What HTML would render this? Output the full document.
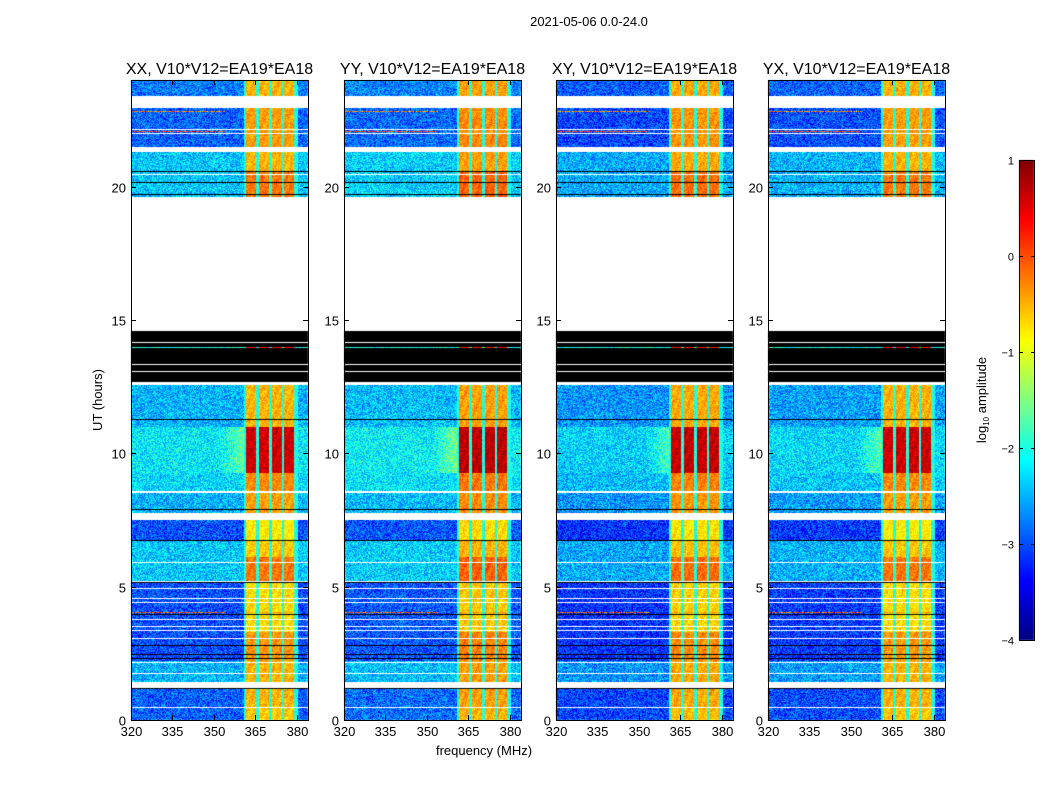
<!DOCTYPE html>
<html><head><meta charset="utf-8"><style>
body{margin:0;background:#fff;width:1050px;height:800px;overflow:hidden;font-family:"Liberation Sans",sans-serif;}
#root{position:relative;width:1050px;height:800px;}
canvas{position:absolute;}
</style></head><body>
<div id="root">
<canvas id="cv" width="1050" height="800" style="left:0;top:0"></canvas>
<svg id="sv" width="1050" height="800" style="position:absolute;left:0;top:0"></svg>
</div>
<script>
// ---- data ----
const panelTitles = ["XX, V10*V12=EA19*EA18","YY, V10*V12=EA19*EA18","XY, V10*V12=EA19*EA18","YX, V10*V12=EA19*EA18"];
const panelBgOffset = [0, 0.05, -0.15, -0.1];
const panelBandOffset = [0, 0.1, 0.05, 0.0];
const segStart = [0.0, 0.5, 1.42, 2.2, 3.3, 5.2, 6.1, 6.75, 7.78, 8.6, 9.25, 11.0, 19.6, 20.6, 21.5, 23.4];
const segEnd   = [0.45,1.2, 2.2, 3.3, 5.17,6.1, 6.72,7.5, 8.5, 9.25,11.0, 12.55,20.6, 21.3, 22.95,24.0];
const segBg    = [-2.9,-2.9,-2.5,-3.0,-3.0,-2.4,-2.4,-3.0,-2.5,-2.3,-2.2,-2.5,-2.4,-2.4,-2.9,-2.8];
const segBand  = [-0.6,-0.5,-0.5,-0.35,-0.7,-0.2,-0.6,-0.8,-0.4,-0.3,0.6,-0.5,-0.2,-0.5,-0.4,-0.5];
const flagStart = [12.67];
const flagEnd = [14.58];
const whiteLines = [1.3,1.35,1.76,2.17,3.07,3.37,3.49,3.75,4.39,4.57,4.95,5.9,7.65,7.7,8.55,12.6,13.05,13.35,14.14,20.45,22.0,22.15];
const blackLines = [1.2,2.29,2.47,2.81,3.97,5.17,6.72,7.9,11.25,19.72,20.17,20.55];
const hotLineTime = [4.03, 22.05, 22.8, 13.95];
const hotLineBg = [-0.1, 0.0, -0.3, -2.0];
const hotLineBand = [-0.4, -0.4, -0.4, 0.3];
const bandBlockLo = [361.5, 366.3, 370.9, 375.5];
const bandBlockHi = [365.3, 369.9, 374.5, 379.0];
const xTicks = [320,335,350,365,380];
const yTicks = [0,5,10,15,20];
const cbTicks = [1,0,-1,-2,-3,-4];
// ---- layout ----
const panelLeft=[131,344,556,768], PW=177, PT=80, PH=640;
const fMin=320, fMax=384, hMin=0, hMax=24, vMin=-4, vMax=1;
const xs=(p,f)=>panelLeft[p]+(f-fMin)/(fMax-fMin)*PW;
const ys=h=>PT+PH-(h-hMin)/(hMax-hMin)*PH;
const SVGNS="http://www.w3.org/2000/svg";
function jet(v){let t=(v-vMin)/(vMax-vMin);t=Math.max(0,Math.min(1,t));
 const c=x=>Math.max(0,Math.min(1,1.5-Math.abs(4*t-x)));
 return [c(3)*255,c(2)*255,c(1)*255];}
function inList(list,lo,hi){for(const l of list) if(l>=lo&&l<hi) return true;return false;}
function grain(a,b){const s=Math.sin(a*12.9898+b*78.233)*43758.5453;return s-Math.floor(s)-0.5;}
function value(p,hlo,hhi,f,px,py){
 const hc=(hlo+hhi)/2;
 if(inList(whiteLines,hlo,hhi)) return 'w';
 if(inList(blackLines,hlo,hhi)) return 'k';
 let inBand=-1, inRange=f>=361&&f<=380.5;
 for(let i=0;i<bandBlockLo.length;i++) if(f>=bandBlockLo[i]&&f<bandBlockHi[i]) inBand=i;
 const n=grain(px+p*300,py);
 for(let i=0;i<hotLineTime.length;i++){ if(hotLineTime[i]>=hlo&&hotLineTime[i]<hhi){
   if(inBand>=0) return hotLineBand[i]+n*0.4;
   if(i<3 && (f>354 || (px+py)%7===3)) continue; return hotLineBg[i]+n*0.8;}}
 for(let i=0;i<segStart.length;i++){ if(hc>=segStart[i]&&hc<segEnd[i]){
   if(inBand>=0) return segBand[i]+panelBandOffset[p]+n*0.5+0.08*Math.sin((f-hc*4)*2.2);
   if(inRange) return -2.0+n*0.5;
   let bg=segBg[i]+panelBgOffset[p];
   if(segBand[i]>0 && f>352 && f<361) bg=bg+(f-352)/9*0.6;
   return bg+n*1.0;}}
 for(let i=0;i<flagStart.length;i++) if(hc>=flagStart[i]&&hc<flagEnd[i]) return 'k';
 return 'w';
}
const cv=document.getElementById('cv'), ctx=cv.getContext('2d');
ctx.fillStyle='#fff';ctx.fillRect(0,0,1050,800);
const img=ctx.getImageData(0,0,1050,800);
for(let p=0;p<4;p++){
 for(let py=0;py<PH;py++){
  const hhi=hMax-(py)/PH*(hMax-hMin), hlo=hMax-(py+1)/PH*(hMax-hMin);
  for(let px=0;px<PW;px++){
   const f=fMin+(px+0.5)/PW*(fMax-fMin);
   const v=value(p,hlo,hhi,f,px,py);
   let c; if(v==='w') c=[255,255,255]; else if(v==='k') c=[0,0,0]; else c=jet(v);
   const idx=((PT+py)*1050+panelLeft[p]+px)*4;
   img.data[idx]=c[0];img.data[idx+1]=c[1];img.data[idx+2]=c[2];img.data[idx+3]=255;
  }}
}
for(let py=0;py<480;py++){const c=jet(vMax-(py/480)*(vMax-vMin));
 for(let px=1019;px<1034;px++){const idx=((160+py)*1050+px)*4;img.data[idx]=c[0];img.data[idx+1]=c[1];img.data[idx+2]=c[2];img.data[idx+3]=255;}}
ctx.putImageData(img,0,0);
const sv=document.getElementById('sv');
function mk(tag,attrs,parent){const e=document.createElementNS(SVGNS,tag);for(const k in attrs)e.setAttribute(k,attrs[k]);(parent||sv).appendChild(e);return e;}
function txt(s,x,y,anchor,size,name){const e=mk('text',{x:x,y:y,'text-anchor':anchor,'font-size':size,'font-family':'Liberation Sans, sans-serif',fill:'#000'});e.textContent=s;
 
 
 return e;}
txt("2021-05-06 0.0-24.0",589,26,'middle',13,'figure-title');
for(let p=0;p<4;p++){
 const g=mk('g',{});
 
 
 const r=mk('rect',{x:panelLeft[p]+0.5,y:PT+0.5,width:PW,height:PH,fill:'none',stroke:'#000','stroke-width':1},g);
 
 
 txt(panelTitles[p],panelLeft[p]+PW/2,74,'middle',16,'panel-title');
 for(const f of xTicks){const x=Math.round(xs(p,f))+0.5;
  mk('line',{x1:x,x2:x,y1:PT+PH,y2:PT+PH-5,stroke:'#000'},g);
  mk('line',{x1:x,x2:x,y1:PT,y2:PT+5,stroke:'#000'},g);
  txt(String(f),x,PT+PH+16,'middle',13,'x-tick-label');}
 for(const h of yTicks){const y=Math.round(ys(h))+0.5;
  mk('line',{x1:panelLeft[p],x2:panelLeft[p]+5,y1:y,y2:y,stroke:'#000'},g);
  mk('line',{x1:panelLeft[p]+PW,x2:panelLeft[p]+PW-5,y1:y,y2:y,stroke:'#000'},g);
  txt(String(h),panelLeft[p]-5,y+5,'end',13,'y-tick-label');}
}
const yl=txt("UT (hours)",0,0,'middle',13,'y-axis-title');yl.setAttribute('transform','translate(102,400) rotate(-90)');
txt("frequency (MHz)",484,755,'middle',13,'x-axis-title');
const cf=mk('rect',{x:1019.5,y:160.5,width:15,height:480,fill:'none',stroke:'#000'});


for(const v of cbTicks){const y=Math.round(160+(vMax-v)/(vMax-vMin)*480)+0.5;
 mk('line',{x1:1019,x2:1023,y1:y,y2:y,stroke:'#000'});mk('line',{x1:1031,x2:1035,y1:y,y2:y,stroke:'#000'});
 txt(v<0?'\u2212'+Math.abs(v):String(v),1014,y+4,'end',11,'colorbar-tick-label');}
const cl=mk('text',{'font-size':13,'font-family':'Liberation Sans, sans-serif','text-anchor':'middle',transform:'translate(986,400) rotate(-90)'});


cl.innerHTML='log<tspan font-size="8" dy="3">10</tspan><tspan dy="-3"> amplitude</tspan>';
</script>
</body></html>
